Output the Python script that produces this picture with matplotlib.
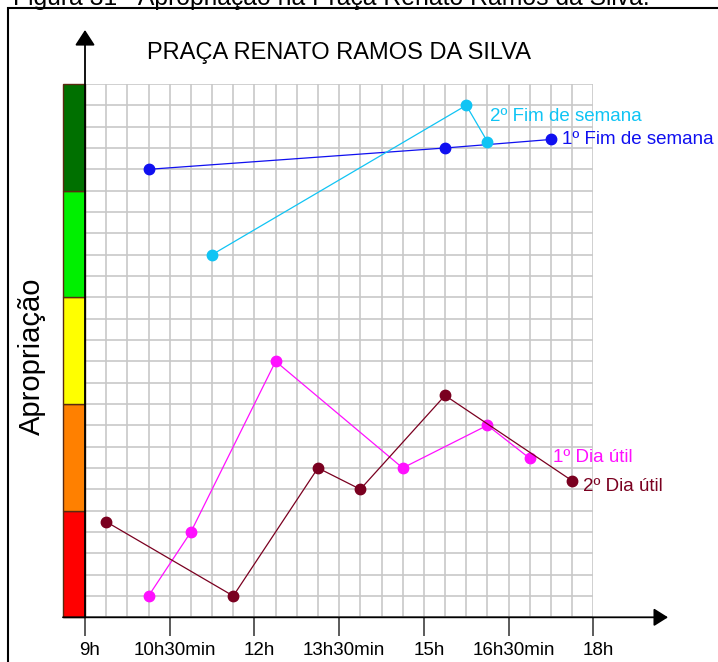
import matplotlib
matplotlib.use("Agg")
import matplotlib.pyplot as plt
from matplotlib.patches import Rectangle
from matplotlib.ticker import MultipleLocator
from matplotlib.transforms import ScaledTranslation

plt.rcParams['font.family'] = ['Liberation Sans', 'DejaVu Sans']

# ---------------- data ----------------
caption = "Figura 31 - Apropriação na Praça Renato Ramos da Silva."
title = "PRAÇA RENATO RAMOS DA SILVA"
ylabel = "Apropriação"

tick_hours = [9, 10.5, 12, 13.5, 15, 16.5, 18]
tick_labels = ["9h", "10h30min", "12h", "13h30min", "15h", "16h30min", "18h"]

band_bottoms = [0, 1, 2, 3, 4]
band_colors = ["#FF0000", "#FF8000", "#FFFF00", "#00F000", "#007000"]

fim1_name = "1º Fim de semana"
fim1_x = [10.125, 15.375, 17.25]
fim1_y = [4.2, 4.4, 4.48]

fim2_name = "2º Fim de semana"
fim2_x = [11.25, 15.75, 16.125]
fim2_y = [3.4, 4.8, 4.46]

dia1_name = "1º Dia útil"
dia1_x = [10.125, 10.875, 12.375, 14.625, 16.125, 16.875]
dia1_y = [0.2, 0.8, 2.4, 1.4, 1.8, 1.49]

dia2_name = "2º Dia útil"
dia2_x = [9.375, 11.625, 13.125, 13.875, 15.375, 17.625]
dia2_y = [0.896, 0.2, 1.4, 1.2, 2.08, 1.28]

# ---------------- figure ----------------
W, H = 718, 662
fig = plt.figure(figsize=(W / 100, H / 100), dpi=100)

left, right, top, bottom = 85, 593.3, 84, 617.3
ax = fig.add_axes([left / W, (H - bottom) / H, (right - left) / W, (bottom - top) / H])
ax.set_xlim(9, 18)
ax.set_ylim(0, 5)

# grid
ax.xaxis.set_major_locator(MultipleLocator(1.5))
ax.xaxis.set_minor_locator(MultipleLocator(0.375))
ax.yaxis.set_major_locator(MultipleLocator(0.2))
ax.set_axisbelow(True)
ax.grid(True, which='both', color='#C8C8C8', lw=1.2)
for s in ax.spines.values():
    s.set_visible(False)

ax.set_xticks(tick_hours)
ax.set_xticklabels(tick_labels, fontsize=13.5)
ax.tick_params(axis='x', which='major', length=14, width=1.2, color='#404040', pad=4)
ax.tick_params(axis='x', which='minor', length=0)
ax.tick_params(axis='y', which='both', length=0, labelleft=False)
shift = ScaledTranslation(5 / 100, 0, fig.dpi_scale_trans)
for lab in ax.get_xticklabels():
    lab.set_transform(lab.get_transform() + shift)

# colour bands on the left
bar_w = 0.39
for b, c in zip(band_bottoms, band_colors):
    ax.bar(9, 1, width=-bar_w, bottom=b, align='edge', color=c,
           edgecolor='#5A2A10', lw=1.0, clip_on=False, zorder=3)

# axes with arrows
ax.annotate('', xy=(1.147, 0), xytext=(-bar_w / 9.0, 0), xycoords='axes fraction',
            arrowprops=dict(arrowstyle='-|>,head_length=0.86,head_width=0.54',
                            color='#404040', fc='black', ec='black', lw=1.3,
                            shrinkA=0, shrinkB=0), annotation_clip=False, zorder=4)
ax.annotate('', xy=(0, 1.1013), xytext=(0, 0), xycoords='axes fraction',
            arrowprops=dict(arrowstyle='-|>,head_length=0.94,head_width=0.61',
                            color='black', lw=1.3, shrinkA=0, shrinkB=0),
            annotation_clip=False, zorder=4)

# series
series = [
    (fim1_x, fim1_y, '#1010F0', fim1_name, -1, (8, 0)),
    (fim2_x, fim2_y, '#10C4F4', fim2_name, 1, (17, -8)),
    (dia1_x, dia1_y, '#FF10FF', dia1_name, -1, (16.5, 0.5)),
    (dia2_x, dia2_y, '#7A0020', dia2_name, -1, (8, -4.3)),
]
for xs, ys, col, name, idx, off in series:
    ax.plot(xs, ys, color=col, lw=0.9, marker='o', ms=7.5, mfc=col, mec=col,
            clip_on=False, zorder=5)
    ax.annotate(name, xy=(xs[idx], ys[idx]), xytext=off, textcoords='offset points',
                ha='left', va='center', fontsize=13.5, color=col,
                annotation_clip=False)

ax.set_title(title, fontsize=17, pad=18)
ax.text((32 - left) / (right - left), 0.49, ylabel, transform=ax.transAxes,
        rotation=90, ha='center', va='center', fontsize=21)

# outer frame and caption (cut at the top edge as in the reference)
fig.add_artist(Rectangle((7.5 / W, -0.1), 1.2, 1 - 7.5 / H + 0.1, fill=False,
                         ec='black', lw=1.5, transform=fig.transFigure))
fig.text(13 / W, 1 - 5.5 / H, caption, fontsize=17.8, ha='left', va='baseline')

fig.savefig("out.png", dpi=100)
